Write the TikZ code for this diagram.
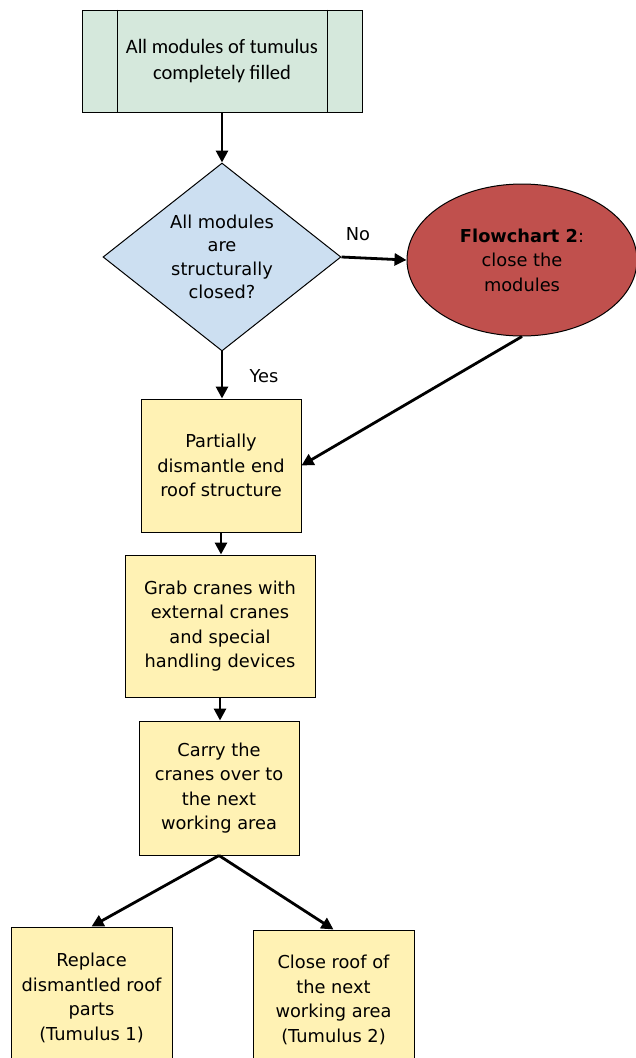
\documentclass[tikz,border=0pt]{standalone}
\usepackage{fontspec}
\setmainfont{DejaVu Sans}
\newfontfamily\calib{Carlito}
\usetikzlibrary{shapes.geometric,arrows.meta,calc}
\definecolor{topgreen}{RGB}{213,232,220}
\definecolor{diamblue}{RGB}{204,223,241}
\definecolor{redfill}{RGB}{192,80,77}
\definecolor{boxyellow}{RGB}{255,242,180}
\begin{document}
\begin{tikzpicture}[x=1pt,y=-1pt,
  txt/.style={font=\fontsize{17.8}{24.5}\selectfont},
  box/.style={draw, line width=1pt, fill=boxyellow, align=center, inner sep=0pt, txt},
  arr/.style={line width=2.8pt, -{Triangle[length=12pt,width=12pt]}},
  lbl/.style={txt, inner sep=0pt}]
\useasboundingbox (0,0) rectangle (635,1058);

\node[box, fill=topgreen, minimum width=280pt, minimum height=102pt,
      font=\calib\fontsize{20.5}{26}\selectfont] (top) at (222,61)
      {All modules of tumulus\\completely filled};
\draw[line width=1pt] ($(top.north west)+(36,0)$) -- ($(top.south west)+(36,0)$);
\draw[line width=1pt] ($(top.north east)+(-35,0)$) -- ($(top.south east)+(-35,0)$);

\node[diamond, draw, line width=1pt, fill=diamblue, minimum width=238pt,
      minimum height=183pt, inner sep=0pt, align=center,
      font=\fontsize{17.8}{23.5}\selectfont] (dec) at (222,257)
      {All modules\\are\\structurally\\closed?};

\node[ellipse, draw, line width=1pt, fill=redfill, minimum width=230pt,
      minimum height=152pt, inner sep=0pt, align=center, txt] (fc) at (522,260)
      {\textbf{Flowchart 2}:\\close the\\modules};

\node[box, minimum width=160pt, minimum height=133pt] (part) at (221,465.5)
      {Partially\\dismantle end\\roof structure};
\node[box, minimum width=190pt, minimum height=142pt] (grab) at (220,626)
      {Grab cranes with\\external cranes\\and special\\handling devices};
\node[box, minimum width=160pt, minimum height=134pt] (carry) at (219,788)
      {Carry the\\cranes over to\\the next\\working area};
\node[box, minimum width=161pt, minimum height=142pt] (repl) at (91.5,998)
      {Replace\\dismantled roof\\parts\\(Tumulus 1)};
\node[box, minimum width=161pt, minimum height=140pt] (close) at (333.5,1000)
      {Close roof of\\the next\\working area\\(Tumulus 2)};

\node[lbl] (no) at (358,234) {No};
\node[lbl] (yes) at (264,376) {Yes};

\draw[arr] (top.south) -- (dec.north);
\draw[arr] (dec.east) -- (fc.west);
\draw[arr] (dec.south) -- (dec.south |- part.north);
\draw[arr] (fc.south) -- (part.east);
\draw[arr] (part.south) -- (part.south |- grab.north);
\draw[arr] (grab.south) -- (grab.south |- carry.north);
\draw[arr] (carry.south) -- (repl.north);
\draw[arr] (carry.south) -- (close.north);
\end{tikzpicture}
\end{document}
